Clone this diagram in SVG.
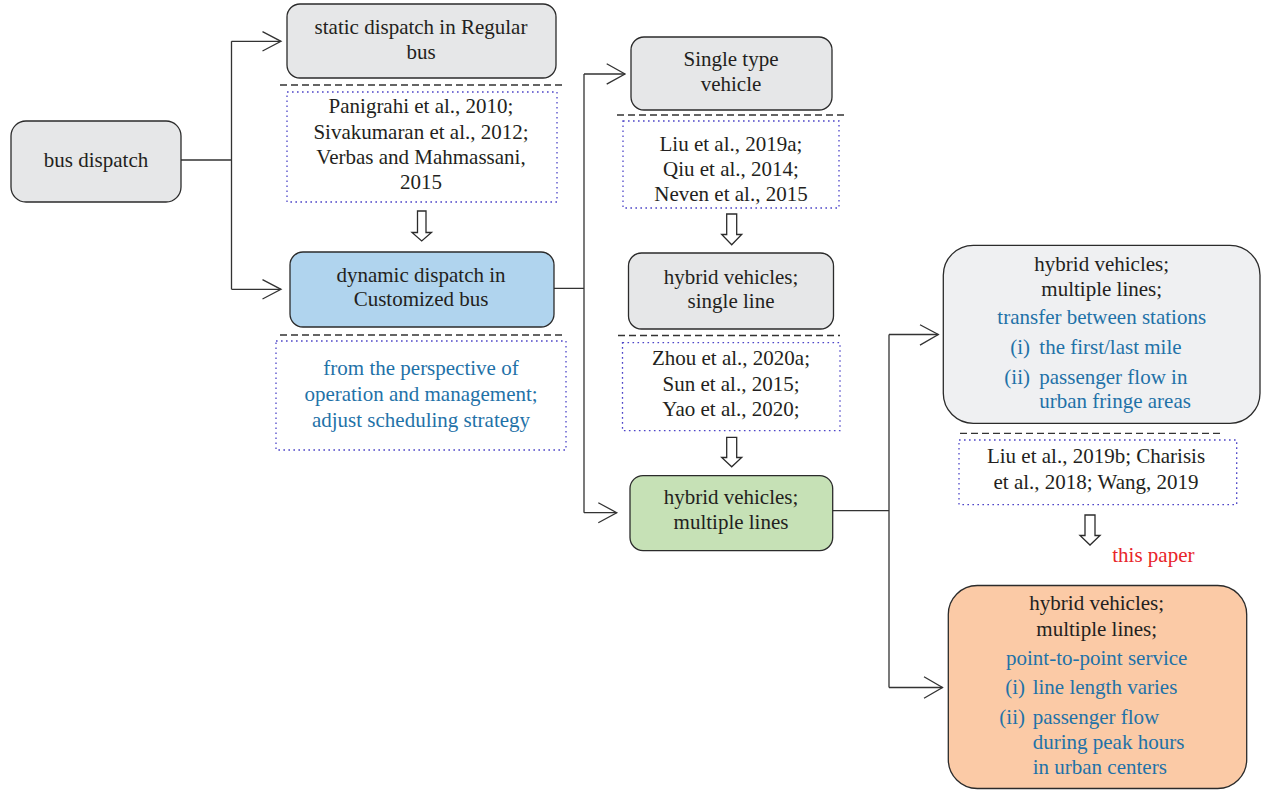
<svg xmlns="http://www.w3.org/2000/svg" width="1262" height="793" viewBox="0 0 1262 793">
<style>
text{font-family:"Liberation Serif","Times New Roman",serif;font-size:21px;fill:#231f20;text-anchor:middle}
.b{fill:#1f72a8}
.r{fill:#e8242a}
.s{text-anchor:start}
.e{text-anchor:end}
.box{stroke:#2b2b2b;stroke-width:1.3}
.grey{fill:#e6e7e8}
.blue{fill:#b0d4ee}
.green{fill:#c6e1b6}
.lgrey{fill:#eff0f2}
.orange{fill:#fbcaa6}
.dot{fill:none;stroke:#4d45c8;stroke-width:1.3;stroke-dasharray:1.6 3.4}
.dash{fill:none;stroke:#333;stroke-width:1.3;stroke-dasharray:7 4}
.ln{fill:none;stroke:#333;stroke-width:1.3}
.hol{fill:#fff;stroke:#2b2b2b;stroke-width:1.3}
</style>
<g id="connectors">
<path class="ln" d="M181 160H231.5M231.5 41.3V289.3M231.5 41.3H281M231.5 289.3H281"/>
<path class="ln" d="M262.5 31.7L281 41.3L262.5 51M262.5 279.7L281 289.3L262.5 299"/>
<path class="ln" d="M549 288.3H584M584 74V512.7M584 74H625M584 512.7H616.7"/>
<path class="ln" d="M606.7 63.8L625 74L606.7 84.1M598.3 502.7L616.7 512.7L598.3 522.7"/>
<path class="ln" d="M825 510.7H889M889 334.5V687.5M889 334.5H938.3M889 687.5H942.5"/>
<path class="ln" d="M920 324.7L938.3 334.5L920 345.1M924 676.7L942.5 687.5L924 698.3"/>
<path class="hol" d="M417.5 211H426V232.5H431.5L421.7 241L412 232.5H417.5Z"/>
<path class="hol" d="M726.7 214H736.7V234.5H741.7L731.7 244.7L721.7 234.5H726.7Z"/>
<path class="hol" d="M726.7 437.4H736.7V457.5H741.7L731.7 466.8L721.7 457.5H726.7Z"/>
<path class="hol" d="M1085 515H1095V535.5H1100L1090 545L1080 535.5H1085Z"/>
</g>
<g id="bus-dispatch">
<rect class="box grey" x="11" y="121" width="170" height="81" rx="15"/>
<text x="96" y="167">bus dispatch</text>
</g>
<g id="static-dispatch">
<rect class="box grey" x="287" y="4" width="269" height="74" rx="13"/>
<text x="421" y="34">static dispatch in Regular</text>
<text x="421" y="59">bus</text>
</g>
<g id="static-refs">
<line class="dash" x1="280" y1="85" x2="563" y2="85"/>
<rect class="dot" x="287" y="92" width="270" height="110"/>
<text x="421" y="113">Panigrahi et al., 2010;</text>
<text x="421" y="139">Sivakumaran et al., 2012;</text>
<text x="421" y="164">Verbas and Mahmassani,</text>
<text x="421" y="189">2015</text>
</g>
<g id="dynamic-dispatch">
<rect class="box blue" x="290" y="252" width="264" height="75" rx="13"/>
<text x="421" y="282">dynamic dispatch in</text>
<text x="421" y="306">Customized bus</text>
</g>
<g id="dynamic-notes">
<line class="dash" x1="280" y1="335" x2="563" y2="335"/>
<rect class="dot" x="276" y="341" width="290" height="109"/>
<text class="b" x="421" y="375">from the perspective of</text>
<text class="b" x="421" y="401">operation and management;</text>
<text class="b" x="421" y="427">adjust scheduling strategy</text>
</g>
<g id="single-type">
<rect class="box grey" x="631" y="37" width="201" height="73" rx="13"/>
<text x="731" y="66">Single type</text>
<text x="731" y="91">vehicle</text>
</g>
<g id="single-refs">
<line class="dash" x1="617" y1="115" x2="846" y2="115"/>
<rect class="dot" x="623" y="121" width="216" height="87"/>
<text x="731" y="151">Liu et al., 2019a;</text>
<text x="731" y="176">Qiu et al., 2014;</text>
<text x="731" y="201">Neven et al., 2015</text>
</g>
<g id="hybrid-single">
<rect class="box grey" x="628.5" y="253" width="205" height="76" rx="13"/>
<text x="731" y="284">hybrid vehicles;</text>
<text x="731" y="308">single line</text>
</g>
<g id="hybrid-single-refs">
<line class="dash" x1="618" y1="335.5" x2="840" y2="335.5"/>
<rect class="dot" x="622.5" y="342.7" width="217.5" height="88"/>
<text x="731" y="365">Zhou et al., 2020a;</text>
<text x="731" y="390.5">Sun et al., 2015;</text>
<text x="731" y="415.5">Yao et al., 2020;</text>
</g>
<g id="hybrid-multiple">
<rect class="box green" x="630" y="475.6" width="202.7" height="75" rx="13"/>
<text x="731" y="504">hybrid vehicles;</text>
<text x="731" y="529">multiple lines</text>
</g>
<g id="transfer-stations">
<rect class="box lgrey" x="943.3" y="245.3" width="316.7" height="178" rx="30"/>
<text x="1101.7" y="271">hybrid vehicles;</text>
<text x="1101.7" y="296">multiple lines;</text>
<text class="b" x="1101.7" y="324">transfer between stations</text>
<text class="b e" x="1030" y="354">(i)</text>
<text class="b s" x="1039.3" y="354">the first/last mile</text>
<text class="b e" x="1030" y="384">(ii)</text>
<text class="b s" x="1039.3" y="384">passenger flow in</text>
<text class="b s" x="1039.3" y="408">urban fringe areas</text>
</g>
<g id="transfer-refs">
<line class="dash" x1="960" y1="433.3" x2="1222" y2="433.3"/>
<rect class="dot" x="959" y="440" width="277.7" height="64.6"/>
<text x="1096" y="463">Liu et al., 2019b; Charisis</text>
<text x="1096" y="489">et al., 2018; Wang, 2019</text>
</g>
<g id="this-paper-label">
<text class="r" x="1153.4" y="562">this paper</text>
</g>
<g id="point-to-point">
<rect class="box orange" x="948.3" y="585.5" width="298.4" height="203" rx="29"/>
<text x="1096.7" y="610">hybrid vehicles;</text>
<text x="1096.7" y="636">multiple lines;</text>
<text class="b" x="1096.7" y="665">point-to-point service</text>
<text class="b e" x="1025" y="694">(i)</text>
<text class="b s" x="1032.7" y="694">line length varies</text>
<text class="b e" x="1025" y="724">(ii)</text>
<text class="b s" x="1032.7" y="724">passenger flow</text>
<text class="b s" x="1032.7" y="749">during peak hours</text>
<text class="b s" x="1032.7" y="774">in urban centers</text>
</g>
</svg>
